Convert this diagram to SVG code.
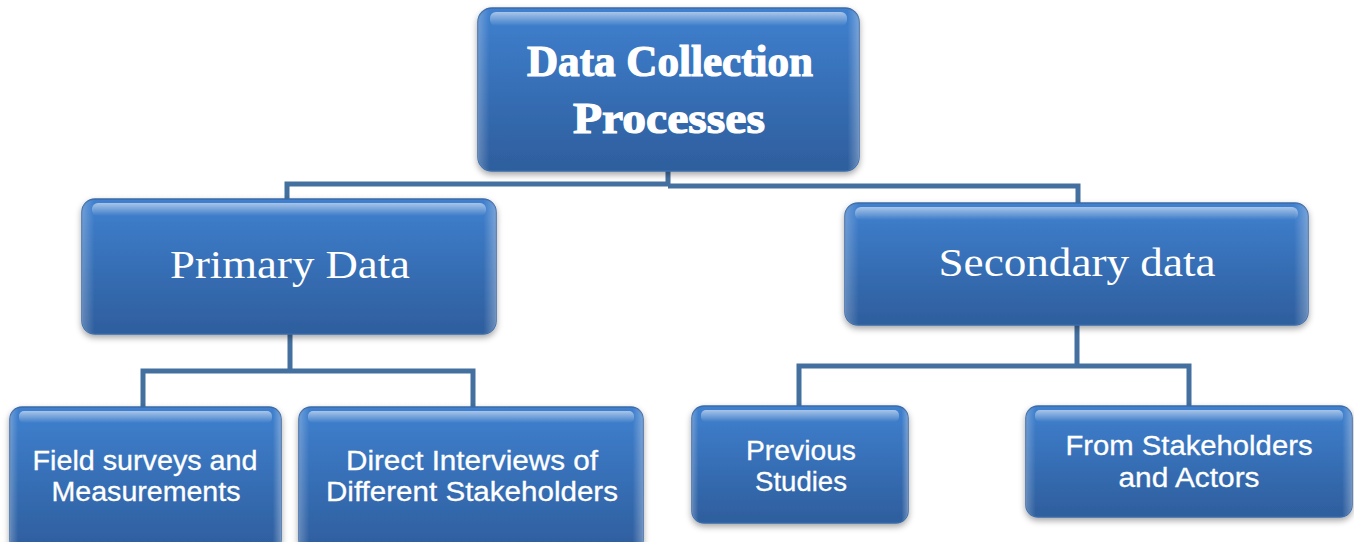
<svg xmlns="http://www.w3.org/2000/svg" width="1354" height="542" viewBox="0 0 1354 542">
<defs>
<linearGradient id="fill" x1="0" y1="0" x2="0" y2="1">
<stop offset="0" stop-color="#3f80cf"/>
<stop offset="1" stop-color="#2e5e9d"/>
</linearGradient>
<linearGradient id="gloss" x1="0" y1="0" x2="0" y2="1">
<stop offset="0" stop-color="#ffffff" stop-opacity="0.55"/>
<stop offset="1" stop-color="#ffffff" stop-opacity="0"/>
</linearGradient>
<linearGradient id="side" x1="0" y1="0" x2="1" y2="0">
<stop offset="0" stop-color="#ffffff" stop-opacity="0.25"/>
<stop offset="0.03" stop-color="#ffffff" stop-opacity="0"/>
<stop offset="0.97" stop-color="#ffffff" stop-opacity="0"/>
<stop offset="1" stop-color="#ffffff" stop-opacity="0.3"/>
</linearGradient>
<filter id="sh" x="-10%" y="-10%" width="120%" height="130%">
<feDropShadow dx="0" dy="3" stdDeviation="3" flood-color="#000" flood-opacity="0.35"/>
</filter>
</defs>
<style>
.box{fill:url(#fill);stroke:#3a6aa8;stroke-width:1.5;filter:url(#sh)}
.side{fill:url(#side)}
.gl{fill:url(#gloss)}
.conn{fill:none;stroke:#44709f;stroke-width:5;stroke-linejoin:miter}
.t1{font-family:"Liberation Serif",serif;font-weight:bold;font-size:44px;fill:#fff;stroke:#fff;stroke-width:1.2;text-anchor:middle}
.t2{font-family:"Liberation Serif",serif;font-size:40px;fill:#fff;text-anchor:middle}
.t3{font-family:"Liberation Sans",sans-serif;font-size:27px;fill:#fff;stroke:#fff;stroke-width:0.3;text-anchor:middle}
</style>
<g id="connectors">
<path class="conn" d="M668 171 V185 M287 201 V184 H668 M668 186 H1078 V205"/>
<path class="conn" d="M290 334 V371 M143 409 V371 H473 V409"/>
<path class="conn" d="M1077 325 V366 M799 408 V366 H1189 V408"/>
</g>
<g id="n-top">
<rect class="box" x="478" y="8" width="381" height="163" rx="14"/>
<rect class="side" x="478" y="8" width="381" height="163" rx="14"/>
<rect class="gl" x="490" y="12" width="357" height="14" rx="6"/>
<text class="t1" x="670" y="76" textLength="286" lengthAdjust="spacingAndGlyphs">Data Collection</text>
<text class="t1" x="669" y="133" textLength="192" lengthAdjust="spacingAndGlyphs">Processes</text>
</g>
<g id="n-primary">
<rect class="box" x="82" y="199" width="414" height="135" rx="13"/>
<rect class="side" x="82" y="199" width="414" height="135" rx="13"/>
<rect class="gl" x="92" y="203" width="394" height="13" rx="6"/>
<text class="t2" x="290" y="278" textLength="240" lengthAdjust="spacingAndGlyphs">Primary Data</text>
</g>
<g id="n-secondary">
<rect class="box" x="845" y="203" width="463" height="122" rx="13"/>
<rect class="side" x="845" y="203" width="463" height="122" rx="13"/>
<rect class="gl" x="855" y="207" width="443" height="13" rx="6"/>
<text class="t2" x="1077" y="276" textLength="277" lengthAdjust="spacingAndGlyphs">Secondary data</text>
</g>
<g id="n-field">
<rect class="box" x="10" y="407" width="271" height="145" rx="12"/>
<rect class="side" x="10" y="407" width="271" height="145" rx="12"/>
<rect class="gl" x="19" y="411" width="253" height="12" rx="5"/>
<text class="t3" x="145" y="470" textLength="225" lengthAdjust="spacingAndGlyphs">Field surveys and</text>
<text class="t3" x="146" y="501" textLength="189" lengthAdjust="spacingAndGlyphs">Measurements</text>
</g>
<g id="n-direct">
<rect class="box" x="299" y="407" width="344" height="145" rx="12"/>
<rect class="side" x="299" y="407" width="344" height="145" rx="12"/>
<rect class="gl" x="308" y="411" width="326" height="12" rx="5"/>
<text class="t3" x="472" y="470" textLength="252" lengthAdjust="spacingAndGlyphs">Direct Interviews of</text>
<text class="t3" x="472" y="501" textLength="292" lengthAdjust="spacingAndGlyphs">Different Stakeholders</text>
</g>
<g id="n-previous">
<rect class="box" x="692" y="406" width="216" height="117" rx="12"/>
<rect class="side" x="692" y="406" width="216" height="117" rx="12"/>
<rect class="gl" x="701" y="410" width="198" height="12" rx="5"/>
<text class="t3" x="801" y="460" textLength="110" lengthAdjust="spacingAndGlyphs">Previous</text>
<text class="t3" x="801" y="491" textLength="92" lengthAdjust="spacingAndGlyphs">Studies</text>
</g>
<g id="n-stakeholders">
<rect class="box" x="1026" y="406" width="326" height="111" rx="12"/>
<rect class="side" x="1026" y="406" width="326" height="111" rx="12"/>
<rect class="gl" x="1035" y="410" width="308" height="12" rx="5"/>
<text class="t3" x="1189" y="455" textLength="247" lengthAdjust="spacingAndGlyphs">From Stakeholders</text>
<text class="t3" x="1189" y="487" textLength="141" lengthAdjust="spacingAndGlyphs">and Actors</text>
</g>
</svg>
